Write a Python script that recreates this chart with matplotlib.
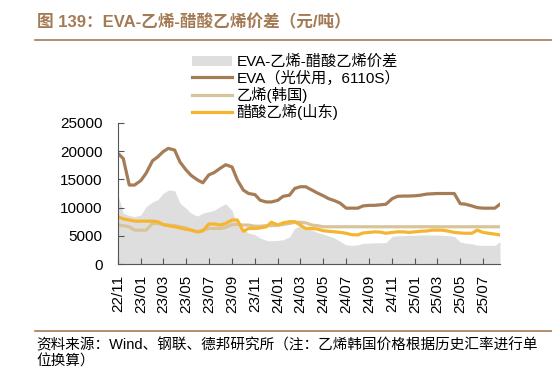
import numpy as np
import pandas as pd
import matplotlib
import matplotlib.pyplot as plt
import matplotlib.dates as mdates
from matplotlib.patches import Patch
from matplotlib.lines import Line2D

matplotlib.use('Agg')
plt.rcParams['font.family'] = ['Liberation Sans', 'Noto Sans CJK SC', 'DejaVu Sans']

# semi-monthly observations, 2022-11-01 .. 2025-08-15
dates = pd.date_range('2022-11-01', periods=68, freq='SMS')

eva = [19600, 18700, 14000, 14000, 14800, 16100, 18300, 19000, 19900, 20500,
       20200, 18100, 16700, 15700, 14900, 14400, 15800, 16200, 17000, 17600,
       17200, 14900, 13100, 12500, 12300, 11300, 11000, 11000, 11300, 12000,
       12200, 13400, 13700, 13700, 13100, 12600, 12100, 11600, 11200, 10800,
       9900, 9900, 9900, 10300, 10400, 10400, 10500, 10600, 11600, 12000,
       12050, 12050, 12100, 12200, 12400, 12450, 12500, 12500, 12500, 12500,
       10700, 10600, 10300, 10000, 9900, 9900, 9900, 10600]

ethylene_kr = [6900, 6800, 6600, 6000, 6000, 6000, 7200, 7200, 7000, 6900,
               6800, 6600, 6400, 6000, 5700, 6000, 6300, 6300, 6300, 6500,
               7000, 7000, 6900, 6900, 6700, 6700, 6800, 6800, 6900, 7000,
               7200, 7400, 7400, 7300, 6900, 6800, 6600, 6600, 6600, 6600,
               6600, 6600, 6600, 6600, 6600, 6600, 6600, 6600, 6600, 6600,
               6600, 6600, 6600, 6600, 6600, 6600, 6600, 6600, 6600, 6600,
               6600, 6600, 6600, 6600, 6600, 6600, 6600, 6600]

vam_sd = [8400, 8000, 7800, 7600, 7600, 7600, 7600, 7500, 7000, 6800,
          6600, 6400, 6150, 6000, 5700, 5850, 7100, 7100, 6900, 7200,
          7800, 7800, 5800, 6300, 6300, 6400, 6600, 7400, 6900, 7300,
          7500, 7500, 6900, 6300, 6300, 6200, 5900, 5800, 5700, 5600,
          5450, 5200, 5150, 5500, 5600, 5700, 5650, 5450, 5600, 5700,
          5700, 5600, 5700, 5800, 5850, 6000, 6000, 6000, 5800, 5600,
          5500, 5450, 5450, 6000, 5600, 5450, 5300, 5150]

spread = [12200, 9000, 8600, 8400, 8700, 10200, 11000, 11400, 12500, 13100,
          13000, 10800, 9900, 9000, 8500, 9000, 9300, 9500, 10200, 10700,
          9500, 6800, 6200, 5500, 5200, 4600, 4200, 4100, 4200, 4300,
          4800, 6300, 6800, 6500, 6000, 5600, 5300, 5000, 4600, 4000,
          3400, 3300, 3400, 3650, 3700, 3750, 3750, 3800, 4900, 5000,
          5050, 5100, 5100, 5150, 5150, 5150, 5150, 5100, 5000, 4900,
          3900, 3700, 3600, 3350, 3300, 3300, 3300, 3950]

labels = ['EVA-乙烯-醋酸乙烯价差', 'EVA（光伏用，6110S）', '乙烯(韩国)', '醋酸乙烯(山东)']

BROWN = '#A57C55'
BEIGE = '#D8C49A'
ORANGE = '#F6B531'
GREY = '#DEDEDE'
TITLE_C = '#A47A54'

fig = plt.figure(figsize=(5.52, 3.77), dpi=100)
ax = fig.add_axes([118 / 552, 1 - 264 / 377, 382 / 552, 141 / 377])

ax.fill_between(dates, 0, spread, color=GREY, linewidth=0)
ax.plot(dates, eva, color=BROWN, linewidth=2.3)
ax.plot(dates, ethylene_kr, color=BEIGE, linewidth=2.3)
ax.plot(dates, vam_sd, color=ORANGE, linewidth=2.3)

ax.set_xlim(dates[0], dates[-1])
ax.set_ylim(0, 25000)
ax.set_yticks(np.arange(0, 25001, 5000))
ax.xaxis.set_major_locator(mdates.MonthLocator(bymonth=[1, 3, 5, 7, 9, 11]))
ax.xaxis.set_major_formatter(mdates.DateFormatter('%y/%m'))
ax.tick_params(axis='x', rotation=90, direction='in', length=4, labelsize=11, pad=8, color='#555555')
ax.tick_params(axis='y', direction='in', length=4, labelsize=11, pad=11, color='#555555')
for s in ['top', 'right']:
    ax.spines[s].set_visible(False)
for s in ['left', 'bottom']:
    ax.spines[s].set_color('#555555')
    ax.spines[s].set_linewidth(0.8)

handles = [Patch(facecolor=GREY, edgecolor='none'),
           Line2D([], [], color=BROWN, linewidth=2.3),
           Line2D([], [], color=BEIGE, linewidth=2.3),
           Line2D([], [], color=ORANGE, linewidth=2.3)]
fig.legend(handles, labels, loc='upper left', bbox_to_anchor=(192 / 552, 1 - 55 / 377),
           frameon=False, fontsize=11, handlelength=2.6, handletextpad=0.3,
           labelspacing=0.08, borderpad=0, borderaxespad=0)

fig.text(37 / 552, 1 - 22 / 377, '图 139：EVA-乙烯-醋酸乙烯价差（元/吨）', color=TITLE_C,
         fontsize=12, fontweight='bold', va='center', ha='left')
fig.add_artist(Line2D([35 / 552, 1], [1 - 40 / 377, 1 - 40 / 377], color=TITLE_C, linewidth=1.2))
fig.add_artist(Line2D([35 / 552, 1], [1 - 331 / 377, 1 - 331 / 377], color=TITLE_C, linewidth=1.2))
fig.text(36 / 552, 1 - 345 / 377, '资料来源：Wind、钢联、德邦研究所（注：乙烯韩国价格根据历史汇率进行单',
         fontsize=10.5, va='center', ha='left')
fig.text(36 / 552, 1 - 362 / 377, '位换算）', fontsize=10.5, va='center', ha='left')

fig.savefig('out.png', dpi=100)
